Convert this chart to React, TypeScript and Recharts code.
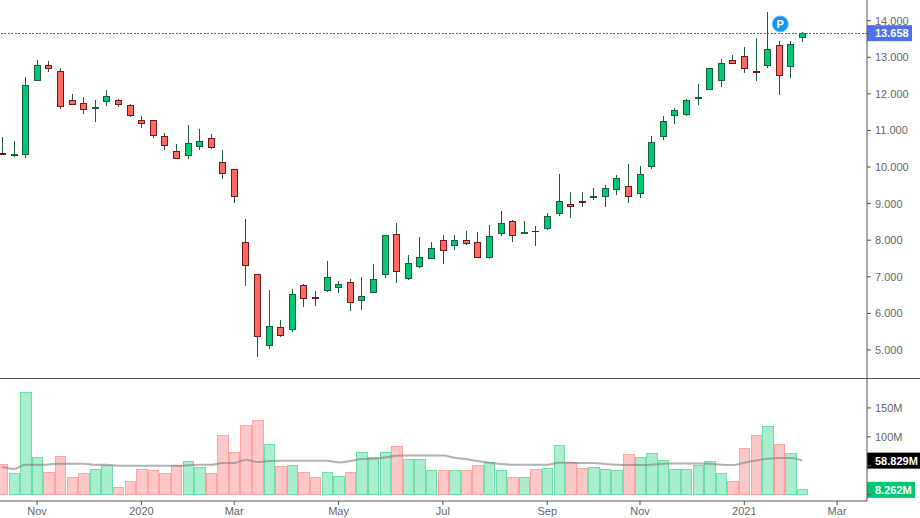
import React from 'react';
import {
  Bar,
  Cell,
  ComposedChart,
  Line,
  ReferenceDot,
  ReferenceLine,
  XAxis,
  YAxis
} from 'recharts';

// weekly candles
const opens = [
  10.36, 10.32, 10.35, 12.37, 12.77, 12.6, 11.81, 11.73, 11.61, 11.8,
  11.81, 11.67, 11.27, 11.27, 10.83, 10.42, 10.32, 10.57, 10.77, 10.12,
  9.92, 7.93, 7.06, 5.13, 5.61, 5.57, 6.75, 6.43, 6.63, 6.72,
  6.84, 6.36, 6.58, 7.07, 8.15, 6.96, 7.29, 7.51, 7.98, 7.86,
  7.98, 7.93, 7.53, 8.17, 8.5, 8.19, 8.25, 8.33, 8.74, 8.97,
  9.05, 9.18, 9.2, 9.39, 9.46, 9.28, 10.02, 10.84, 11.4, 11.44,
  11.86, 12.11, 12.36, 12.9, 13.01, 12.6, 12.77, 13.31, 12.74, 13.53
];
const closes = [
  10.35, 10.34, 12.22, 12.77, 12.7, 11.66, 11.72, 11.58, 11.62, 11.92,
  11.72, 11.42, 11.2, 10.87, 10.6, 10.24, 10.64, 10.69, 10.54, 9.83,
  9.19, 7.32, 5.38, 5.63, 5.4, 6.51, 6.4, 6.41, 6.97, 6.78,
  6.29, 6.45, 6.92, 8.12, 7.15, 7.36, 7.52, 7.77, 7.73, 7.98,
  7.92, 7.54, 8.09, 8.45, 8.14, 8.21, 8.24, 8.64, 9.05, 8.93,
  9.04, 9.19, 9.41, 9.68, 9.2, 9.79, 10.66, 11.24, 11.54, 11.81,
  11.89, 12.68, 12.82, 12.82, 12.69, 12.57, 13.2, 12.51, 13.34, 13.658
];
const highs = [
  10.82, 10.71, 12.46, 12.93, 12.9, 12.71, 12.0, 11.91, 11.83, 12.11,
  11.86, 11.72, 11.4, 11.28, 10.93, 10.63, 11.15, 11.04, 10.9, 10.47,
  9.94, 8.58, 7.07, 6.64, 5.82, 6.67, 6.8, 6.61, 7.43, 6.89,
  6.94, 6.99, 7.35, 8.14, 8.47, 7.6, 8.09, 7.95, 8.14, 8.14,
  8.25, 8.22, 8.42, 8.8, 8.55, 8.53, 8.39, 8.74, 9.81, 9.32,
  9.32, 9.43, 9.51, 9.78, 10.08, 10.03, 10.85, 11.39, 11.61, 11.85,
  12.27, 12.72, 12.95, 13.06, 13.28, 13.53, 14.24, 13.44, 13.44, 13.69
];
const lows = [
  10.34, 10.28, 10.25, 12.36, 12.61, 11.59, 11.7, 11.46, 11.24, 11.68,
  11.65, 11.38, 11.07, 10.8, 10.47, 10.23, 10.23, 10.47, 10.5, 9.68,
  9.03, 6.76, 4.82, 5.03, 5.36, 5.5, 6.18, 6.21, 6.59, 6.56,
  6.07, 6.1, 6.57, 6.97, 6.84, 6.92, 7.25, 7.49, 7.36, 7.74,
  7.88, 7.52, 7.49, 8.12, 7.96, 8.18, 7.85, 8.29, 8.67, 8.62,
  8.92, 9.11, 8.92, 9.24, 9.03, 9.16, 9.95, 10.75, 11.18, 11.4,
  11.69, 12.1, 12.2, 12.81, 12.58, 12.36, 12.7, 11.98, 12.44, 13.43
];

// volume in millions
const volumes = [
  51.7, 35.7, 177, 65, 39.1, 66.7, 28.8, 35.7, 44.3, 51.2,
  11.6, 21.9, 44.3, 40.9, 37.4, 51.2, 58.1, 47.8, 37.4, 102.9,
  73.6, 120.2, 128.8, 87.4, 49.5, 51.2, 39.1, 30.5, 39.1, 32.2,
  39.1, 73.6, 65, 73.6, 84, 61.6, 61.6, 40.9, 42.6, 42.6,
  40.9, 51.2, 56.4, 42.6, 28.8, 30.5, 44.3, 46, 85.7, 56.4,
  46, 47.8, 44.3, 42.6, 70.2, 65, 71.9, 59.8, 44.3, 44.3,
  51.2, 58.1, 35.7, 21.9, 80.5, 102.9, 118.4, 87.4, 71.9, 8.262
];
const volumeMa = [
  47.7, 44.3, 51.7, 51.7, 52.3, 53.5, 53.5, 53.5, 51.7, 51.7,
  50, 50, 50, 50, 50, 50, 50.6, 51.7, 51.7, 54.6,
  54.6, 60.4, 56.3, 58, 58.6, 58.6, 58.6, 58.6, 58.6, 55.8,
  58, 61.5, 62.1, 64.4, 67.2, 67.8, 67.8, 67.8, 67.8, 63.8,
  61.5, 58, 55.2, 52.9, 51.7, 51.7, 51.7, 51.7, 55.2, 55.2,
  54.6, 54.6, 52.9, 51.7, 51.2, 51.2, 51.7, 53.5, 54, 54,
  54, 53.5, 51.7, 51.2, 55.2, 59.2, 62.1, 63.2, 63.2, 58.829
];

const xTicks = [3, 12, 20, 29, 38, 47, 55, 64, 72];
const xLabels = ['Nov', '2020', 'Mar', 'May', 'Jul', 'Sep', 'Nov', '2021', 'Mar'];
const priceTicks = [5, 6, 7, 8, 9, 10, 11, 12, 13, 14];
const volumeTicks = [0, 50, 100, 150];

const lastPrice = 13.658;
const lastVolume = 8.262;
const lastVolumeMa = 58.829;

const chartData = opens.map((open, i) => ({
  i,
  open,
  close: closes[i],
  range: [lows[i], highs[i]],
  volume: volumes[i],
  ma: volumeMa[i]
}));

const FONT = '"Liberation Sans", Arial, sans-serif';
const AXIS_COLOR = '#555';
const X_DOMAIN = [-0.198, 74.58];
const tickStyle = { fill: '#666', fontSize: 11, fontFamily: FONT };

const Candle = (props: any) => {
  const { x, y, width, height, payload } = props;
  const [low, high] = payload.range;
  const toY = (v: number) => y + ((high - v) / (high - low)) * height;
  const up = payload.close >= payload.open;
  const bodyTop = toY(Math.max(payload.open, payload.close));
  const bodyBottom = toY(Math.min(payload.open, payload.close));
  const cx = x + width / 2;
  return (
    <g shapeRendering="crispEdges">
      <line x1={cx} x2={cx} y1={y} y2={y + height} stroke="#1a5a3e" />
      <rect
        x={x}
        y={bodyTop}
        width={width}
        height={Math.max(bodyBottom - bodyTop, 0.5)}
        fill={up ? '#00c873' : '#ff6860'}
        stroke={up ? '#1a5a3e' : '#6e1a1a'}
      />
    </g>
  );
};

const PriceTag = (props: any) => {
  const { viewBox, text, fill, tagWidth } = props;
  const left = viewBox.x + viewBox.width;
  return (
    <g>
      <rect x={left} y={viewBox.y - 8} width={tagWidth} height={16} fill={fill} />
      <text x={left + 8} y={viewBox.y + 4} fill="#fff" fontSize={11} fontWeight={700} fontFamily={FONT}>
        {text}
      </text>
    </g>
  );
};

export default function App() {
  return (
    <div style={{ position: 'absolute', left: 0, top: 0, width: 920, height: 518, background: '#fff' }}>
      <ComposedChart
        width={920}
        height={378}
        data={chartData}
        margin={{ top: 0, right: 0, bottom: 0, left: 0 }}
      >
        <XAxis hide type="number" dataKey="i" domain={X_DOMAIN} />
        <YAxis
          orientation="right"
          width={53}
          domain={[4.234, 14.565]}
          ticks={priceTicks}
          interval={0}
          tick={tickStyle}
          tickSize={4}
          tickMargin={4}
          tickFormatter={(v: number) => v.toFixed(3)}
          axisLine={{ stroke: AXIS_COLOR }}
          tickLine={{ stroke: AXIS_COLOR }}
        />
        <Bar dataKey="range" barSize={6} shape={<Candle />} isAnimationActive={false} />
        <ReferenceDot
          x={67.1}
          y={13.91}
          r={8}
          fill="#1194f6"
          stroke="#6cbcf9"
          label={{ value: 'P', position: 'center', fill: '#fff', fontSize: 11, fontWeight: 700, fontFamily: FONT }}
        />
        <ReferenceLine
          y={lastPrice}
          stroke="#3f5fd8"
          strokeDasharray="2 1.5"
          shapeRendering="crispEdges"
          label={<PriceTag text={lastPrice.toFixed(3)} fill="#4d71ea" tagWidth={45} />}
        />
      </ComposedChart>
      <div style={{ height: 1, background: AXIS_COLOR }} />
      <ComposedChart
        width={920}
        height={139}
        data={chartData}
        margin={{ top: 0, right: 0, bottom: 0, left: 0 }}
      >
        <XAxis
          type="number"
          dataKey="i"
          domain={X_DOMAIN}
          height={17}
          ticks={xTicks}
          interval={0}
          tick={tickStyle}
          tickSize={4}
          tickMargin={2}
          tickFormatter={(v: number) => xLabels[xTicks.indexOf(v)]}
          axisLine={{ stroke: AXIS_COLOR }}
          tickLine={{ stroke: AXIS_COLOR }}
        />
        <YAxis
          orientation="right"
          width={53}
          domain={[-11, 200]}
          ticks={volumeTicks}
          interval={0}
          tick={tickStyle}
          tickSize={4}
          tickMargin={4}
          // 0 and 50M sit under the value tags, so only their tick marks show
          tickFormatter={(v: number) => (v < 100 ? '' : `${v}M`)}
          axisLine={{ stroke: AXIS_COLOR }}
          tickLine={{ stroke: AXIS_COLOR }}
        />
        <Bar dataKey="volume" barSize={11.6} shapeRendering="crispEdges" isAnimationActive={false}>
          {chartData.map(d => {
            const up = d.close >= d.open;
            return (
              <Cell
                key={d.i}
                fill={up ? '#a8eecf' : '#ffc8c8'}
                stroke={up ? '#70e0ab' : '#ffa3a3'}
              />
            );
          })}
        </Bar>
        <Line
          type="monotone"
          dataKey="ma"
          stroke="#7f7f7f"
          strokeOpacity={0.6}
          strokeWidth={2}
          dot={false}
          isAnimationActive={false}
        />
        <ReferenceLine
          y={lastVolumeMa}
          stroke="none"
          label={<PriceTag text={`${lastVolumeMa.toFixed(3)}M`} fill="#000" tagWidth={53} />}
        />
        <ReferenceLine
          y={lastVolume}
          stroke="none"
          label={<PriceTag text={`${lastVolume.toFixed(3)}M`} fill="#00c873" tagWidth={48} />}
        />
      </ComposedChart>
    </div>
  );
}
